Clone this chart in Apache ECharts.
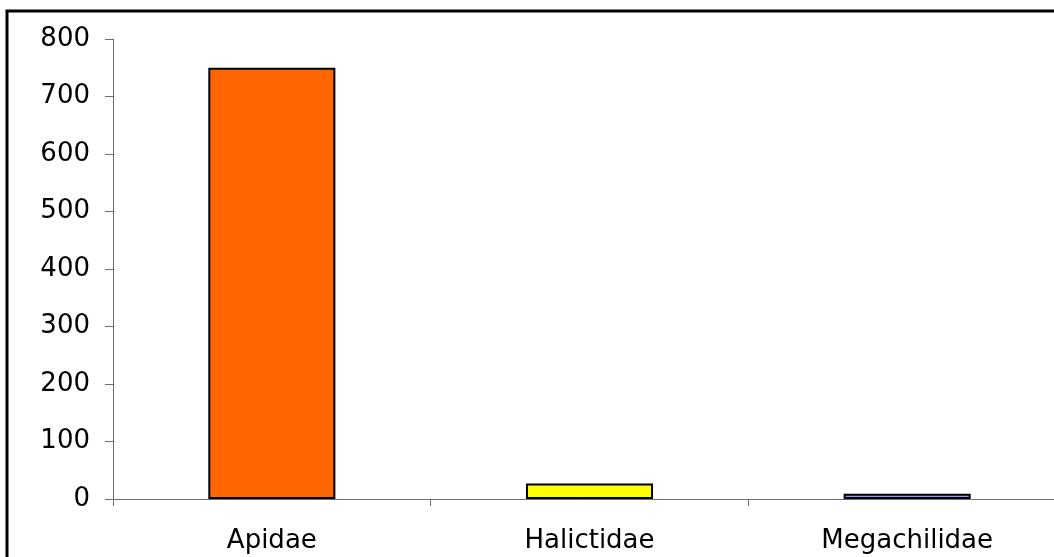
<!DOCTYPE html>
<html>
<head>
<meta charset="utf-8">
<script src="https://cdn.jsdelivr.net/npm/echarts@6/dist/echarts.min.js"></script>
<style>
html,body{margin:0;padding:0;background:#fff;}
#chart{width:1054px;height:557px;}
</style>
</head>
<body>
<div id="chart"></div>
<script>
const categories = ['Apidae', 'Halictidae', 'Megachilidae'];
const values = [750, 27, 9];
const barColors = ['#FF6600', '#FFFF00', '#9999FF'];
const yTicks = [0, 100, 200, 300, 400, 500, 600, 700, 800];

const chart = echarts.init(document.getElementById('chart'));
const font = 'DejaVu Sans';
chart.setOption({
  animation: false,
  backgroundColor: '#fff',
  graphic: [{
    type: 'rect',
    shape: {x: 7, y: 11, width: 1100, height: 600},
    style: {fill: 'none', stroke: '#000', lineWidth: 3},
    z: 100
  }],
  grid: {left: 113, width: 953, top: 39, bottom: 58, containLabel: false, outerBoundsMode: 'none'},
  xAxis: {
    type: 'category',
    data: categories,
    axisLine: {lineStyle: {color: '#707070', width: 1}},
    axisTick: {show: true, length: 7, lineStyle: {color: '#707070'}},
    axisLabel: {color: '#000', fontFamily: font, fontSize: 26, margin: 29}
  },
  yAxis: {
    type: 'value',
    min: yTicks[0],
    max: yTicks[yTicks.length - 1],
    interval: 100,
    axisLine: {show: true, lineStyle: {color: '#707070', width: 1}},
    axisTick: {show: true, length: 8, lineStyle: {color: '#707070'}},
    splitLine: {show: false},
    axisLabel: {color: '#000', fontFamily: font, fontSize: 26, margin: 23}
  },
  series: [{
    type: 'bar',
    barWidth: '40%',
    data: values.map((v, i) => ({
      value: v,
      itemStyle: {color: barColors[i], borderColor: '#000', borderWidth: 2}
    }))
  }]
});
</script>
</body>
</html>
